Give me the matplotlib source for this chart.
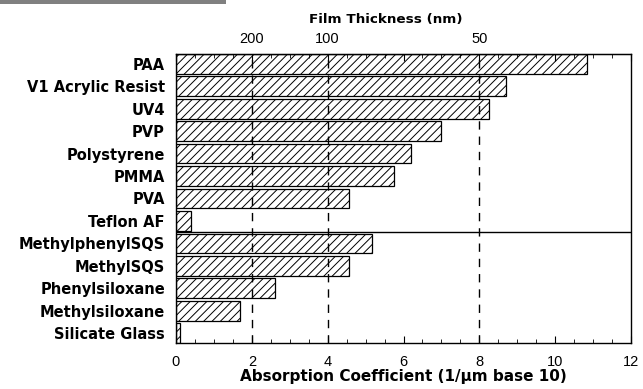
import matplotlib
matplotlib.use("Agg")
import matplotlib.pyplot as plt
from matplotlib.ticker import MultipleLocator
import matplotlib.patches as mpatches

plt.rcParams['font.family'] = ['Liberation Sans', 'DejaVu Sans']
plt.rcParams['hatch.linewidth'] = 0.7

materials = ["PAA", "V1 Acrylic Resist", "UV4", "PVP", "Polystyrene", "PMMA", "PVA",
             "Teflon AF", "MethylphenylSQS", "MethylSQS", "Phenylsiloxane",
             "Methylsiloxane", "Silicate Glass"]
absorption = [10.84, 8.71, 8.26, 7.0, 6.2, 5.76, 4.55, 0.4, 5.18, 4.55, 2.6, 1.68, 0.1]
ref_lines = [2, 4, 8]
thickness_labels = ["200", "100", "50"]

bold_family = ['DejaVu Sans']

fig = plt.figure(figsize=(6.43, 3.89), dpi=100)
ax = fig.add_axes([176/643, 1-343/389, 455/643, 289/389])

n = len(materials)
h = 0.88
ypos = list(range(n))
ax.barh(ypos, absorption, height=h, color='none', edgecolor='black',
        hatch='////', linewidth=0.9, zorder=3)
for x in ref_lines:
    ax.axvline(x, color='black', linestyle=(0, (6, 5)), linewidth=1.0, zorder=2)
ax.axhline(7.5, color='black', linewidth=1.0, zorder=4)

ax.set_ylim(n - 1 + h/2, -h/2)
ax.set_xlim(0, 12)
ax.set_yticks(ypos)
ax.set_yticklabels(materials, fontsize=10.5, fontweight='bold', family=bold_family)
ax.tick_params(axis='y', length=0, pad=8)
ax.xaxis.set_major_locator(MultipleLocator(2))
ax.xaxis.set_minor_locator(MultipleLocator(0.5))
ax.tick_params(axis='x', which='major', direction='in', length=5, labelsize=10.5, pad=9, top=True)
ax.tick_params(axis='x', which='minor', direction='in', length=3, top=True)
ax.set_xlabel("Absorption Coefficient (1/\u00b5m base 10)", fontsize=11, fontweight='bold',
              family=bold_family, labelpad=0)
for s in ax.spines.values():
    s.set_linewidth(1.0)

sec = ax.secondary_xaxis('top')
sec.set_xticks(ref_lines)
sec.set_xticklabels(thickness_labels, fontsize=10.5)
sec.tick_params(axis='x', length=0, pad=6)

fig.text(386/643, 1-19/389, "Film Thickness (nm)", fontsize=9.7, fontweight='bold',
         family=bold_family, ha='center', va='center')

fig.patches.append(mpatches.Rectangle((0, 1-4/389), 226/643, 4/389, transform=fig.transFigure,
                                      facecolor='#808080', edgecolor='none'))

fig.savefig("out.png", dpi=100)
